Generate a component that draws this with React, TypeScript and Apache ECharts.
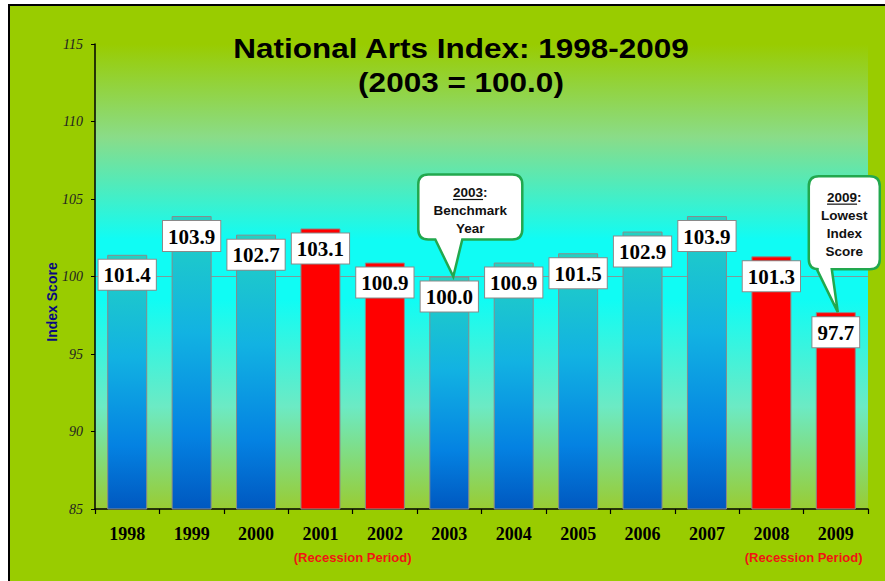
import React, { useEffect, useRef } from "react";
import * as echarts from "echarts";

const years = ["1998", "1999", "2000", "2001", "2002", "2003", "2004", "2005", "2006", "2007", "2008", "2009"];
const indexValues = [101.4, 103.9, 102.7, 103.1, 100.9, 100.0, 100.9, 101.5, 102.9, 103.9, 101.3, 97.7];
const recessionYears = ["2001", "2002", "2008", "2009"];
const recessionPairs = [["2001", "2002"], ["2008", "2009"]];
const recessionText = "(Recession Period)";
const yMin = 85;
const yMax = 115;
const yInterval = 5;
const benchmarkValue = 100;
const titleLines = ["National Arts Index: 1998-2009", "(2003 = 100.0)"];
const yAxisName = "Index Score";
const benchmarkCallout = { year: "2003", lines: ["Benchmark", "Year"] };
const lowestCallout = { year: "2009", lines: ["Lowest", "Index", "Score"] };

const Callout = echarts.graphic.extendShape({
  type: "callout",
  shape: { x: 0, y: 0, w: 0, h: 0, r: 8, b1: 0, b2: 0, tx: 0, ty: 0 },
  buildPath(ctx: any, s: any) {
    const { x, y, w, h, r, b1, b2, tx, ty } = s;
    ctx.moveTo(x + r, y);
    ctx.lineTo(x + w - r, y);
    ctx.quadraticCurveTo(x + w, y, x + w, y + r);
    ctx.lineTo(x + w, y + h - r);
    ctx.quadraticCurveTo(x + w, y + h, x + w - r, y + h);
    ctx.lineTo(b2, y + h);
    ctx.lineTo(tx, ty);
    ctx.lineTo(b1, y + h);
    ctx.lineTo(x + r, y + h);
    ctx.quadraticCurveTo(x, y + h, x, y + h - r);
    ctx.lineTo(x, y + r);
    ctx.quadraticCurveTo(x, y, x + r, y);
    ctx.closePath();
  },
});
echarts.graphic.registerShape("callout", Callout);

const CALLOUT_FONT = 'bold 13.5px "Liberation Sans", Arial, sans-serif';
const GREEN = "#22A84E";

function measure(text: string, font: string) {
  const c = document.createElement("canvas").getContext("2d");
  if (!c) return text.length * 7;
  c.font = font;
  return c.measureText(text).width;
}

export default function App() {
  const ref = useRef<HTMLDivElement>(null);
  useEffect(() => {
    if (!ref.current) return;
    const chart = echarts.init(ref.current, null, { renderer: "svg" });
    const blueGrad = new echarts.graphic.LinearGradient(0, 0, 0, 1, [
      { offset: 0, color: "#22D2C2" },
      { offset: 0.4, color: "#12B2E2" },
      { offset: 0.75, color: "#0482E2" },
      { offset: 1, color: "#0058C0" },
    ]);
    const bgGrad = new echarts.graphic.LinearGradient(0, 0, 0, 1, [
      { offset: 0, color: "#99CC00" },
      { offset: 0.2, color: "#8ADC88" },
      { offset: 0.42, color: "#10FCF4" },
      { offset: 0.55, color: "#10FCF4" },
      { offset: 0.78, color: "#6CEAC4" },
      { offset: 1, color: "#99CC33" },
    ]);
    const splitColors = [] as string[];
    for (let v = yMin; v <= yMax; v += yInterval) splitColors.push(v === benchmarkValue ? "#7C9C9C" : "rgba(0,0,0,0)");

    chart.setOption({
      animation: false,
      backgroundColor: "transparent",
      grid: {
        left: 95,
        right: 17,
        top: 44,
        bottom: 72,
        show: true,
        backgroundColor: bgGrad,
        borderWidth: 0,
        containLabel: false,
        outerBoundsMode: "none",
      },
      xAxis: {
        type: "category",
        data: years,
        axisLine: { show: true, lineStyle: { color: "#000", width: 1.5 } },
        axisTick: { show: true, length: 5, inside: false, lineStyle: { color: "#000", width: 1.2 } },
        axisLabel: {
          margin: 16,
          color: "#000",
          fontFamily: '"Liberation Serif", "Times New Roman", serif',
          fontWeight: "bold",
          fontSize: 18,
        },
        splitLine: { show: false },
      },
      yAxis: {
        type: "value",
        min: yMin,
        max: yMax,
        interval: yInterval,
        axisLine: { show: true, lineStyle: { color: "#000", width: 1.5 } },
        axisTick: { show: true, length: 4, lineStyle: { color: "#000" } },
        axisLabel: {
          margin: 12,
          color: "#222",
          fontFamily: '"Liberation Serif", "Times New Roman", serif',
          fontStyle: "italic",
          fontSize: 14,
        },
        splitLine: { show: true, lineStyle: { color: splitColors, width: 1 } },
      },
      series: [
        {
          type: "bar",
          barWidth: 40,
          data: indexValues.map((v, i) => ({
            value: v,
            itemStyle: {
              color: recessionYears.includes(years[i]) ? "#FF0000" : blueGrad,
              borderColor: "#8A8A8A",
              borderWidth: 1,
            },
          })),
          label: {
            show: true,
            position: "insideTop",
            distance: 5,
            formatter: (p: any) => Number(p.value).toFixed(1),
            color: "#000",
            fontFamily: '"Liberation Serif", "Times New Roman", serif',
            fontWeight: "bold",
            fontSize: 21,
            lineHeight: 23,
            backgroundColor: "#fff",
            borderColor: "#8A8A8A",
            borderWidth: 1,
            padding: [4, 5, 3, 5],
          },
        },
      ],
    });

    const px = (cat: string, v: number) => chart.convertToPixel({ gridIndex: 0 }, [years.indexOf(cat), v]) as number[];
    const graphics: any[] = [];

    // title
    titleLines.forEach((t, i) => {
      graphics.push({
        type: "text",
        x: 461,
        y: i === 0 ? 48 : 82,
        scaleX: 1.125,
        z: 100,
        style: {
          text: t,
          font: 'bold 28px "Liberation Sans", Arial, sans-serif',
          fill: "#000",
          align: "center",
          verticalAlign: "middle",
        },
      });
    });

    // y axis name
    graphics.push({
      type: "text",
      x: 52,
      y: 302,
      rotation: Math.PI / 2,
      z: 100,
      style: {
        text: yAxisName,
        font: 'bold 14px "Liberation Sans", Arial, sans-serif',
        fill: "#0A0A80",
        align: "center",
        verticalAlign: "middle",
      },
    });

    // recession labels
    recessionPairs.forEach(([a, b]) => {
      const pa = px(a, yMin);
      const pb = px(b, yMin);
      graphics.push({
        type: "text",
        x: (pa[0] + pb[0]) / 2,
        y: 557,
        z: 100,
        style: {
          text: recessionText,
          font: 'bold 13px "Liberation Sans", Arial, sans-serif',
          fill: "#F01414",
          align: "center",
          verticalAlign: "middle",
        },
      });
    });

    const addCallout = (
      c: { year: string; lines: string[] },
      dx: number,
      boxOffX: number,
      boxOffY: number,
      w: number,
      h: number,
      b1: number,
      b2: number,
      firstLineOff: number,
    ) => {
      const v = indexValues[years.indexOf(c.year)];
      const p = px(c.year, v);
      const tx = p[0] + dx;
      const ty = p[1];
      const bx = tx + boxOffX;
      const by = ty + boxOffY;
      graphics.push({
        type: "callout",
        z: 110,
        shape: { x: bx, y: by, w, h, r: 10, b1: tx + b1, b2: tx + b2, tx, ty },
        style: { fill: "#fff", stroke: GREEN, lineWidth: 2.5 },
      });
      const cx = bx + w / 2;
      const allLines = [c.year + ":", ...c.lines];
      allLines.forEach((t, i) => {
        graphics.push({
          type: "text",
          x: cx,
          y: by + firstLineOff + i * 18,
          z: 111,
          style: { text: t, font: CALLOUT_FONT, fill: "#111", align: "center", verticalAlign: "middle" },
        });
      });
      const full = measure(c.year + ":", CALLOUT_FONT);
      const yw = measure(c.year, CALLOUT_FONT);
      const sx = cx - full / 2;
      graphics.push({
        type: "line",
        z: 111,
        shape: { x1: sx, y1: by + firstLineOff + 7, x2: sx + yw, y2: by + firstLineOff + 7 },
        style: { stroke: "#111", lineWidth: 1.2 },
      });
    };

    addCallout(benchmarkCallout, 4, -35, -102, 104, 65, -18, 9, 18);
    addCallout(lowestCallout, 2, -29, -136, 71, 93, -21, -6, 21);

    chart.setOption({ graphic: { elements: graphics } });

    return () => chart.dispose();
  }, []);

  return (
    <div style={{ position: "fixed", left: 0, top: 0, width: 885, height: 581, overflow: "hidden", background: "#fff" }}>
      <div
        style={{
          position: "absolute",
          left: 8,
          top: 4,
          width: 900,
          height: 600,
          background: "#99CC00",
          borderLeft: "2px solid #000",
          borderTop: "2px solid #000",
        }}
      />
      <div ref={ref} style={{ position: "absolute", left: 0, top: 0, width: 885, height: 581 }} />
    </div>
  );
}
